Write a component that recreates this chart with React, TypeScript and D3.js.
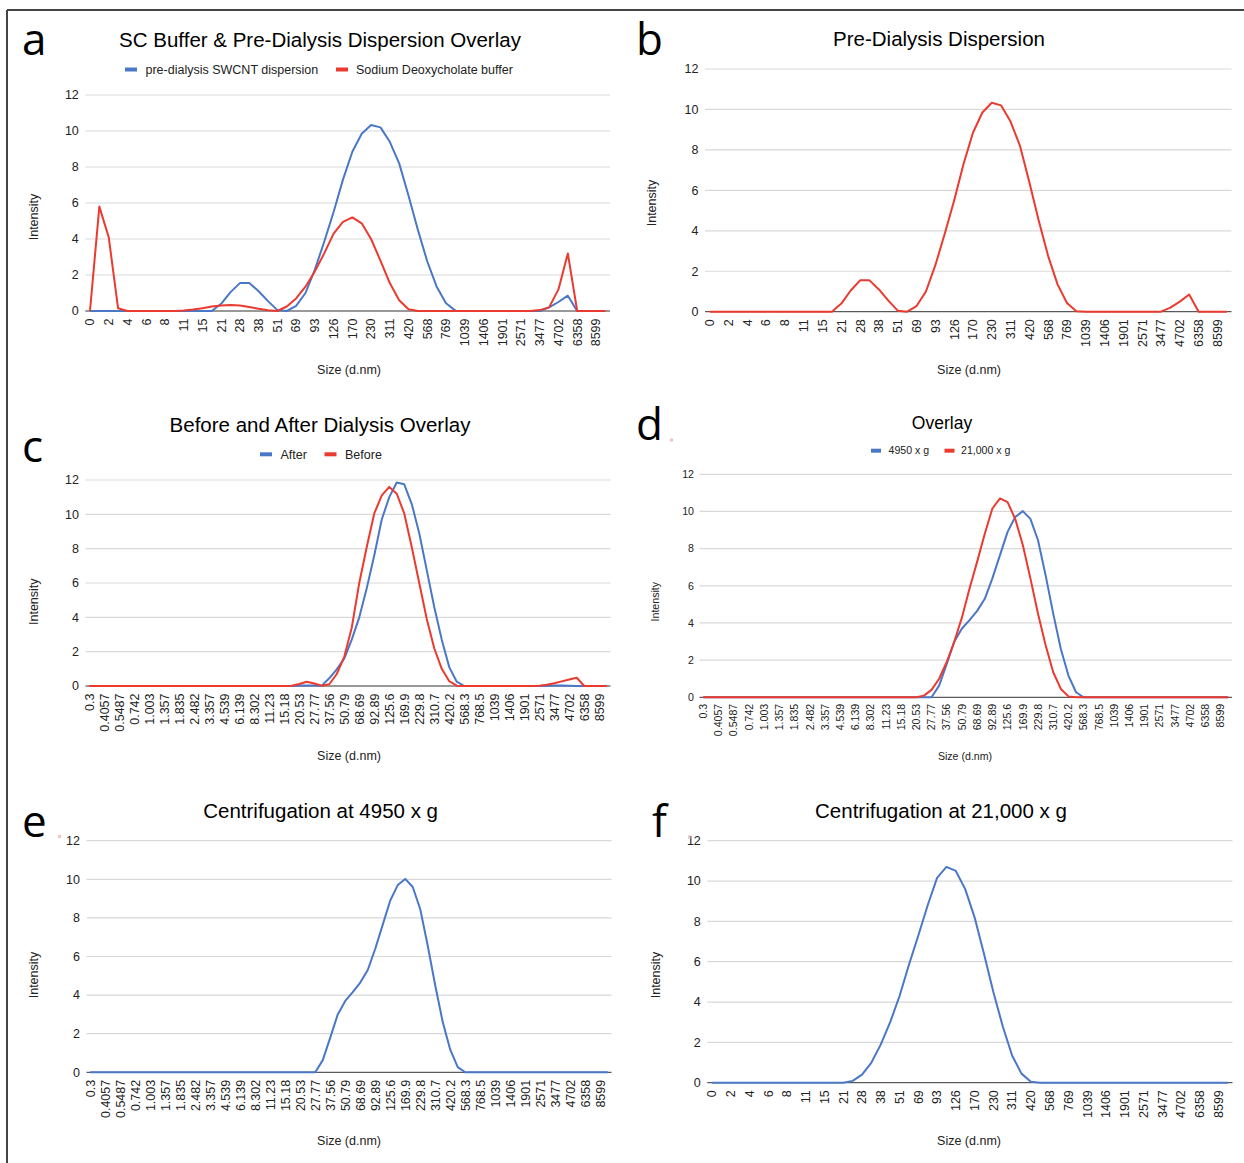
import React from 'react';
import * as d3 from 'd3';

// x categories (sizes in d.nm) – only every other one gets a label
const sizeShort = ['0','1','2','3','4','5','6','7','8','10','11','13','15','18','21','24','28','33','38','44','51','59','69','80','93','108','126','146','170','198','230','267','311','361','420','489','568','661','769','894','1039','1209','1406','1635','1901','2211','2571','2990','3477','4043','4702','5468','6358','7394','8599','10000'];
const sizeLong = ['0.3','0.3491','0.4057','0.4718','0.5487','0.6381','0.742','0.863','1.003','1.167','1.357','1.578','1.835','2.134','2.482','2.886','3.357','3.903','4.539','5.279','6.139','7.139','8.302','9.655','11.23','13.06','15.18','17.66','20.53','23.88','27.77','32.29','37.56','43.67','50.79','59.06','68.69','79.88','92.89','108','125.6','146.1','169.9','197.6','229.8','267.2','310.7','361.4','420.2','488.8','568.3','661','768.5','893.9','1039','1209','1406','1635','1901','2211','2571','2990','3477','4043','4702','5468','6358','7394','8599','10000'];

const yTicks = [0, 2, 4, 6, 8, 10, 12];

// intensity series
const preDialysis = [0,0,0,0,0,0,0,0,0,0,0,0,0,0,0.4,1.05,1.55,1.55,1.1,0.55,0.05,0,0.28,1.0,2.3,3.85,5.5,7.3,8.85,9.85,10.33,10.2,9.4,8.2,6.4,4.5,2.75,1.35,0.43,0.02,0,0,0,0,0,0,0,0,0,0.2,0.5,0.85,0,0,0,0];
const sdcBuffer = [0,5.8,4.1,0.15,0,0,0,0,0,0,0.03,0.08,0.15,0.25,0.31,0.33,0.3,0.22,0.12,0.04,0,0.25,0.7,1.35,2.2,3.2,4.3,4.95,5.2,4.87,4.0,2.8,1.55,0.6,0.1,0,0,0,0,0,0,0,0,0,0,0,0,0,0.05,0.2,1.2,3.2,0,0,0,0];
const afterDialysis = [0,0,0,0,0,0,0,0,0,0,0,0,0,0,0,0,0,0,0,0,0,0,0,0,0,0,0,0,0.03,0.03,0.03,0.02,0.45,0.97,1.6,2.7,4.0,5.7,7.6,9.7,11.0,11.85,11.75,10.6,8.9,6.75,4.6,2.7,1.1,0.25,0,0,0,0,0,0,0,0,0,0,0,0.02,0.03,0.03,0.02,0,0,0,0,0];
const beforeDialysis = [0,0,0,0,0,0,0,0,0,0,0,0,0,0,0,0,0,0,0,0,0,0,0,0,0,0,0,0.02,0.12,0.25,0.15,0.02,0.1,0.7,1.7,3.4,6.0,8.1,10.05,11.1,11.6,11.2,10.05,8.1,6.0,3.9,2.2,1.0,0.28,0.02,0,0,0,0,0,0,0,0,0,0,0.02,0.07,0.16,0.27,0.38,0.48,0,0,0,0];
const spin4950 = [0,0,0,0,0,0,0,0,0,0,0,0,0,0,0,0,0,0,0,0,0,0,0,0,0,0,0,0,0,0,0,0.63,1.8,3.0,3.7,4.15,4.65,5.3,6.4,7.65,8.9,9.7,10.02,9.6,8.45,6.56,4.5,2.6,1.17,0.27,0,0,0,0,0,0,0,0,0,0,0,0,0,0,0,0,0,0,0,0];
const spin21000 = [0,0,0,0,0,0,0,0,0,0,0,0,0,0,0,0,0,0,0,0,0,0,0,0,0,0,0,0,0,0.09,0.4,1.0,1.9,3.0,4.3,5.85,7.3,8.8,10.16,10.7,10.5,9.6,8.2,6.4,4.5,2.8,1.35,0.45,0.05,0,0,0,0,0,0,0,0,0,0,0,0,0,0,0,0,0,0,0,0,0];
const spin21000Short = [0,0,0,0,0,0,0,0,0,0,0,0,0,0,0,0.09,0.4,1.0,1.9,3.0,4.3,5.85,7.3,8.8,10.16,10.7,10.5,9.6,8.2,6.4,4.5,2.8,1.35,0.45,0.05,0,0,0,0,0,0,0,0,0,0,0,0,0,0,0,0,0,0,0,0,0];

const BLUE = '#4a77c6';
const RED = '#eb3a2f';
const FONT = '"Liberation Sans", Arial, sans-serif';

type Series = { name: string; values: number[]; color: string };
type LegendItem = { mx: number; tx: number };

type PanelProps = {
  letter: string; letterX: number; letterY: number;
  title: string; titleX: number; titleY: number; titleSize: number;
  left: number; right: number; top: number; bottom: number;
  cats: string[]; series: Series[];
  legendY?: number; legend?: LegendItem[];
  fs: number; gap: number;
  intensity: [number, number]; sizeLab: [number, number];
};

function Panel(p: PanelProps) {
  const x = d3.scalePoint<number>()
    .domain(d3.range(p.cats.length))
    .range([p.left, p.right])
    .padding(0.5);
  const y = d3.scaleLinear().domain([0, 12]).range([p.bottom, p.top]);
  const line = d3.line<number>().x((_, i) => x(i) as number).y(d => y(d));
  const mw = p.fs < 12 ? 10 : 12;

  return (
    <g fontFamily={FONT}>
      <text x={p.letterX} y={p.letterY} fontFamily='"Open Sans", sans-serif' fontSize={44} fill="#000">{p.letter}</text>
      <text x={p.titleX} y={p.titleY} textAnchor="middle" fontSize={p.titleSize} fill="#000">{p.title}</text>

      {p.legend && p.legend.map((it, i) => (
        <g key={i}>
          <rect x={it.mx} y={p.legendY! - 2} width={mw} height={4} fill={p.series[i].color} />
          <text x={it.tx} y={p.legendY!} dy="0.35em" fontSize={p.fs} fill="#222">{p.series[i].name}</text>
        </g>
      ))}

      {yTicks.map(t => (
        <g key={t}>
          {t > 0 && <line x1={p.left} x2={p.right} y1={y(t)} y2={y(t)} stroke="#d9d9d9" strokeWidth={1.2} />}
          <text x={p.left - p.gap} y={y(t)} dy="0.35em" textAnchor="end" fontSize={p.fs} fill="#222">{t}</text>
        </g>
      ))}
      <line x1={p.left} x2={p.right} y1={y(0)} y2={y(0)} stroke="#333" strokeWidth={1} />

      {p.cats.map((c, i) => i % 2 === 0 && (
        <text key={i} transform={`translate(${x(i)},${p.bottom + p.gap + 1}) rotate(-90)`}
          dy="0.35em" textAnchor="end" fontSize={p.fs} fill="#222">{c}</text>
      ))}

      {p.series.map(s => (
        <path key={s.name} d={line(s.values) || ''} fill="none" stroke={s.color} strokeWidth={2} strokeLinejoin="round" />
      ))}

      <text transform={`translate(${p.intensity[0]},${p.intensity[1]}) rotate(-90)`} textAnchor="middle" dy="0.35em" fontSize={p.fs} fill="#222">Intensity</text>
      <text x={p.sizeLab[0]} y={p.sizeLab[1]} textAnchor="middle" dy="0.35em" fontSize={p.fs} fill="#222">Size (d.nm)</text>
    </g>
  );
}

export default function App() {
  return (
    <div style={{ position: 'absolute', left: 0, top: 0 }}>
      <svg width={1244} height={1163} style={{ display: 'block', background: '#fff' }}>
        <line x1={7} x2={1244} y1={10} y2={10} stroke="#444" strokeWidth={2} />
        <line x1={7} x2={7} y1={10} y2={1163} stroke="#444" strokeWidth={2} />

        <Panel letter="a" letterX={22} letterY={55}
          title="SC Buffer & Pre-Dialysis Dispersion Overlay" titleX={320} titleY={47} titleSize={20.5}
          left={85.3} right={610} top={95} bottom={311}
          cats={sizeShort}
          series={[
            { name: 'pre-dialysis SWCNT dispersion', values: preDialysis, color: BLUE },
            { name: 'Sodium Deoxycholate buffer', values: sdcBuffer, color: RED },
          ]}
          legendY={69.5} legend={[{ mx: 125, tx: 145.5 }, { mx: 336, tx: 356 }]}
          fs={12.5} gap={6.5} intensity={[33.5, 217]} sizeLab={[349, 370]} />

        <Panel letter="b" letterX={636} letterY={55}
          title="Pre-Dialysis Dispersion" titleX={939} titleY={46} titleSize={20.5}
          left={705} right={1231.5} top={69} bottom={311.7}
          cats={sizeShort}
          series={[{ name: 'pre-dialysis', values: preDialysis, color: RED }]}
          fs={12.5} gap={6.5} intensity={[652, 203]} sizeLab={[969, 370]} />

        <Panel letter="c" letterX={22} letterY={462}
          title="Before and After Dialysis Overlay" titleX={320} titleY={431.5} titleSize={20.5}
          left={85.5} right={610.5} top={480} bottom={686}
          cats={sizeLong}
          series={[
            { name: 'After', values: afterDialysis, color: BLUE },
            { name: 'Before', values: beforeDialysis, color: RED },
          ]}
          legendY={454.3} legend={[{ mx: 260, tx: 280.5 }, { mx: 324.5, tx: 345 }]}
          fs={12.5} gap={6.5} intensity={[33.5, 601.7]} sizeLab={[349, 755.7]} />

        <Panel letter="d" letterX={636} letterY={440}
          title="Overlay" titleX={942} titleY={429.3} titleSize={17.5}
          left={699.5} right={1232} top={474.3} bottom={697.3}
          cats={sizeLong}
          series={[
            { name: '4950 x g', values: spin4950, color: BLUE },
            { name: '21,000 x g', values: spin21000, color: RED },
          ]}
          legendY={450.7} legend={[{ mx: 871, tx: 888.5 }, { mx: 944.5, tx: 961 }]}
          fs={10.6} gap={5.5} intensity={[655, 601.7]} sizeLab={[965, 756.7]} />
        <rect x={670} y={438.5} width={3} height={3} fill="#f6c0c0" />

        <Panel letter="e" letterX={22} letterY={837}
          title="Centrifugation at 4950 x g" titleX={320.6} titleY={818.3} titleSize={20.5}
          left={86.5} right={611.5} top={840.7} bottom={1072.3}
          cats={sizeLong}
          series={[{ name: '4950 x g', values: spin4950, color: BLUE }]}
          fs={12.5} gap={6.5} intensity={[33.5, 975]} sizeLab={[349, 1141]} />
        <rect x={58} y={835} width={3} height={3} fill="#f6c0c0" />

        <Panel letter="f" letterX={652} letterY={837}
          title="Centrifugation at 21,000 x g" titleX={941} titleY={818.3} titleSize={20.5}
          left={707.3} right={1232.5} top={840.7} bottom={1082.7}
          cats={sizeShort}
          series={[{ name: '21,000 x g', values: spin21000Short, color: BLUE }]}
          fs={12.5} gap={6.5} intensity={[655.5, 975]} sizeLab={[969, 1141]} />
        <rect x={688} y={835.5} width={2.5} height={3} fill="#f6c0c0" />
      </svg>
    </div>
  );
}
